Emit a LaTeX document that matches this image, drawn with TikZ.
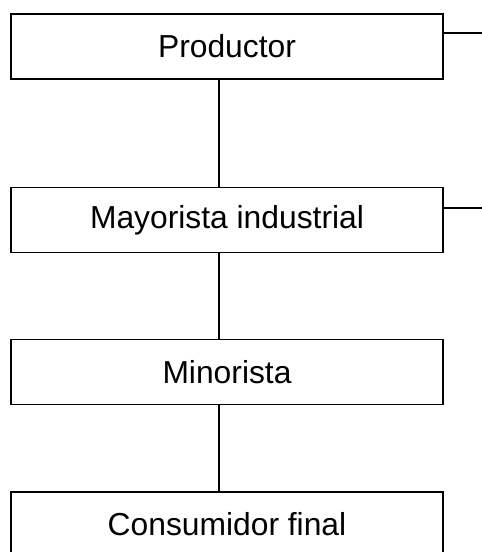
\documentclass[tikz,border=0pt]{standalone}
\usepackage{fontspec}
\setmainfont{Liberation Sans}
\begin{document}
\begin{tikzpicture}[x=1pt,y=1pt,
  box/.style={draw=black, line width=1.8pt, fill=white, minimum width=432pt, minimum height=65pt, inner sep=0pt, font=\fontsize{31.8}{38}\selectfont},
  conn/.style={draw=black, line width=1.8pt}]
\useasboundingbox (0,0) rectangle (482,552);
\node[box] (p) at (227,505.5) {Productor};
\node[box] (m) at (227,332) {Mayorista industrial};
\node[box] (n) at (227,180) {Minorista};
\node[box] (c) at (227,27.5) {Consumidor final};
\coordinate (pr) at (482,519);
\coordinate (mr) at (482,344);
\draw[conn] ([xshift=-8pt]p.south) -- ([xshift=-8pt]m.north);
\draw[conn] ([xshift=-8pt]m.south) -- ([xshift=-8pt]n.north);
\draw[conn] ([xshift=-8pt]n.south) -- ([xshift=-8pt]c.north);
\draw[conn] (p.east |- pr) -- (pr);
\draw[conn] (m.east |- mr) -- (mr);
\end{tikzpicture}
\end{document}
